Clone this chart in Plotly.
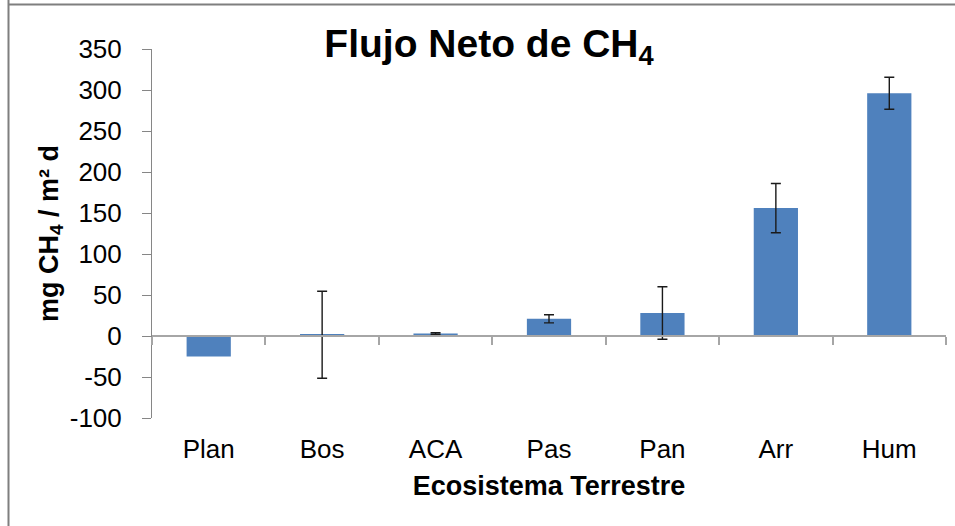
import plotly.graph_objects as go

categories = ["Plan", "Bos", "ACA", "Pas", "Pan", "Arr", "Hum"]
flux = [-25, 1.5, 3, 21, 28, 156, 296]
err_categories = ["Bos", "ACA", "Pas", "Pan", "Arr", "Hum"]
err_means = [1.5, 3, 21, 28, 156, 296]
err_sizes = [53, 1, 5, 32, 30, 19.5]
y_ticks = [-100, -50, 0, 50, 100, 150, 200, 250, 300, 350]
y_tick_text = ["-100", "-50", "0", "50", "100", "150", "200", "250", "300", "350"]

FONT = "Liberation Sans, Arial, sans-serif"
W, H = 955, 526
L, R, T, B = 152, 9, 49, 108
pw, ph = W - L - R, H - T - B

fig = go.Figure()
fig.add_trace(go.Bar(
    x=categories, y=flux,
    marker=dict(color="#4F81BD", line=dict(width=0)),
    showlegend=False, hoverinfo="x+y",
))
fig.add_trace(go.Scatter(
    x=err_categories, y=err_means, mode="markers",
    marker=dict(opacity=0),
    error_y=dict(type="data", array=err_sizes, visible=True,
                 color="#1a1a1a", thickness=1.4, width=5),
    showlegend=False, hoverinfo="skip",
))
# invisible helper trace for the zero-line category axis
fig.add_trace(go.Scatter(x=categories, y=[0]*len(categories), xaxis="x2",
                         mode="markers", marker=dict(opacity=0),
                         showlegend=False, hoverinfo="skip"))

def px_x(p):
    return (p - L) / pw

def px_y(p):
    return (H - B - p) / ph

fig.update_layout(
    width=W, height=H,
    margin=dict(l=L, r=R, t=T, b=B, autoexpand=False),
    paper_bgcolor="white", plot_bgcolor="white",
    font=dict(family=FONT, color="black"),
    bargap=0.61,
    title=dict(text="<b>Flujo Neto de CH<sub>4</sub></b>",
               font=dict(size=39, family=FONT, color="black"),
               x=px_x(489), xref="paper", xanchor="center",
               y=1 - 43 / H, yref="container", yanchor="middle"),
    xaxis=dict(type="category", range=[-0.5, 6.5], showline=False,
               ticks="", showgrid=False, zeroline=False, automargin=False,
               tickfont=dict(size=26, family=FONT),
               ticklabelstandoff=13,
               title=dict(text="<b>Ecosistema Terrestre</b>",
                          font=dict(size=27, family=FONT), standoff=13)),
    xaxis2=dict(type="category", range=[-0.5, 6.5], overlaying="x",
                anchor="free", position=px_y(336.3), automargin=False,
                showline=True, linecolor="#a6a6a6", linewidth=1.5,
                ticks="outside", tickson="boundaries", ticklen=8,
                tickcolor="#a6a6a6", tickwidth=1.5,
                showticklabels=False, showgrid=False, zeroline=False),
    yaxis=dict(range=[-100, 350], tickvals=y_ticks, ticktext=y_tick_text,
               showgrid=False, automargin=False,
               zeroline=False, showline=True, linecolor="#868686",
               linewidth=1, ticks="outside", ticklen=9,
               tickcolor="#868686", tickwidth=1,
               tickfont=dict(size=26, family=FONT),
               ticklabelstandoff=15,
               title=dict(text="<b>mg CH<sub>4</sub> / m² d</b>",
                          font=dict(size=27, family=FONT), standoff=3)),
    shapes=[
        dict(type="line", xref="paper", yref="paper",
             x0=px_x(8.5), x1=px_x(8.5), y0=px_y(0), y1=px_y(H),
             line=dict(color="#7f7f7f", width=2)),
        dict(type="line", xref="paper", yref="paper",
             x0=px_x(8), x1=px_x(W), y0=px_y(4.5), y1=px_y(4.5),
             line=dict(color="#7f7f7f", width=2)),
    ],
)

fig.write_html("out.html",
               config={"displayModeBar": False},
               post_script="document.body.style.margin='0';"
                           "document.body.style.padding='0';")
